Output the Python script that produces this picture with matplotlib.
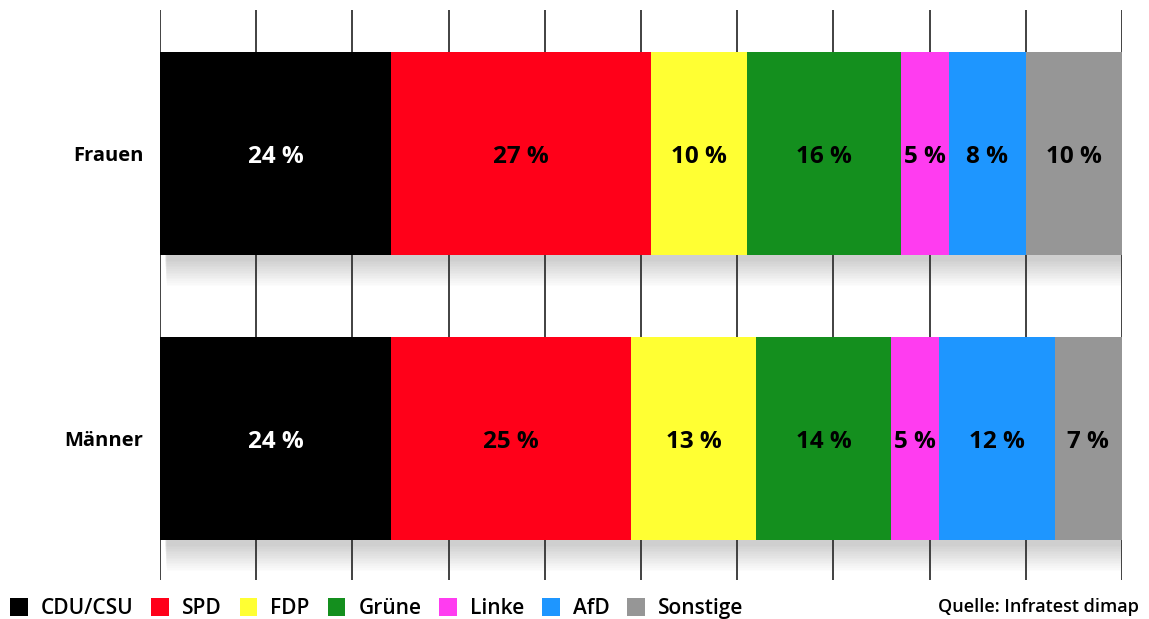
import matplotlib
matplotlib.use("Agg")
import matplotlib.pyplot as plt
from matplotlib.patches import Patch, Rectangle

plt.rcParams["font.family"] = ["Open Sans", "DejaVu Sans"]

groups = ["Frauen", "Männer"]
parties = ["CDU/CSU", "SPD", "FDP", "Grüne", "Linke", "AfD", "Sonstige"]
colors = ["#000000", "#ff0019", "#ffff33", "#148f1e", "#ff3cf0", "#1e96ff", "#969696"]
frauen = [24, 27, 10, 16, 5, 8, 10]
maenner = [24, 25, 13, 14, 5, 12, 7]
values = [frauen, maenner]
source = "Quelle: Infratest dimap"

fig = plt.figure(figsize=(11.49, 6.19), dpi=100)
ax = fig.add_axes([160 / 1149, 1 - 580 / 619, 962 / 1149, 570 / 619])

bar_h = 0.712
ypos = [0, 1]

# soft shadow under each bar (stacked translucent layers)
for y in ypos:
    for i in range(16):
        g = i / 15
        ax.add_patch(Rectangle((0.5 + g * 0.2, y - bar_h / 2 + 0.015),
                               99.5 + g * 1.8, bar_h + 0.005 + g * 0.09,
                               facecolor="black", alpha=0.01, lw=0, zorder=0.4))

for y, vals in zip(ypos, values):
    left = 0
    for v, c in zip(vals, colors):
        ax.barh(y, v, left=left, height=bar_h, color=c, zorder=2)
        tc = "white" if c == "#000000" else "black"
        ax.text(left + v / 2, y + 0.012, f"{v} %", ha="center", va="center",
                fontsize=17.5, fontweight="bold", color=tc, zorder=3)
        left += v

ax.set_xlim(0, 100)
ax.set_ylim(1.4965, -0.5035)
ax.set_xticks(range(0, 101, 10))
ax.set_axisbelow(True)
ax.xaxis.grid(True, color="#333333", lw=1.3)
ax.tick_params(axis="x", length=0, labelbottom=False)
ax.tick_params(axis="y", length=0, pad=12)
ax.set_yticks(ypos)
ax.set_yticklabels(groups, fontsize=14.5, fontweight="bold")
for s in ax.spines.values():
    s.set_visible(False)

handles = [Patch(facecolor=c, edgecolor="none") for c in colors]
fig.legend(handles, parties, loc="lower left", bbox_to_anchor=(10 / 1149, 0.0),
           ncol=len(parties), frameon=False, borderpad=0, borderaxespad=0,
           prop={"weight": "semibold", "size": 15},
           handlelength=0.85, handleheight=1.0, handletextpad=0.63,
           columnspacing=0.85)

fig.text(1139 / 1149, 1 - 607 / 619, source, ha="right", va="center",
         fontsize=13, fontweight="semibold")

fig.savefig("out.png", dpi=100)
